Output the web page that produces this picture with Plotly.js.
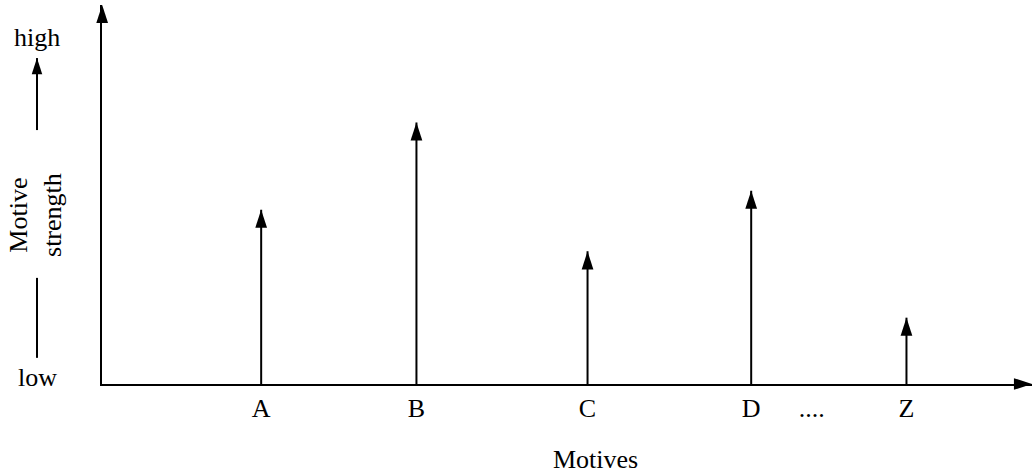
<!DOCTYPE html>
<html><head><meta charset="utf-8">
<script src="https://cdn.plot.ly/plotly-3.0.1.min.js"></script>
<style>html,body{margin:0;padding:0;background:#fff}</style>
</head><body><div id="chart" style="width:1034px;height:473px"></div>
<script>
// ---- data ----
const motives = ['A', 'B', 'C', 'D', 'Z'];
const motivePositions = [1.71, 3.38, 5.22, 6.98, 8.65];
const strengths = [4.6, 6.9, 3.5, 5.1, 1.75];
const ellipsisPosition = 7.63;
const ellipsisLabel = '....';
const xTitle = 'Motives';
const yTitle = 'Motive<br>strength';
const highLabel = 'high';
const lowLabel = 'low';
const axisMax = 10;

// ---- styling ----
const FONT = '"Liberation Serif", "Times New Roman", serif';
const FS = 26;
const INK = '#000';

// stems built from the data
const stemX = [], stemY = [];
motives.forEach((m, i) => {
  stemX.push(motivePositions[i], motivePositions[i], null);
  stemY.push(0, strengths[i], null);
});

const traces = [
  { type: 'scatter', mode: 'lines', x: stemX, y: stemY,
    line: { color: INK, width: 2 }, hoverinfo: 'skip', showlegend: false },
  { type: 'scatter', mode: 'markers', x: motivePositions, y: strengths,
    marker: { symbol: 'arrow', size: 19, color: INK, line: { width: 0 } },
    cliponaxis: false, showlegend: false, text: motives },
  // axis arrow heads
  { type: 'scatter', mode: 'markers', x: [axisMax, 0], y: [0, axisMax],
    marker: { symbol: 'arrow', size: 19, color: INK, angle: [90, 0], line: { width: 0 } },
    cliponaxis: false, showlegend: false, hoverinfo: 'skip' },
  // "low -> high" indicator on the left strip
  { type: 'scatter', mode: 'lines', x: [37, 37], y: [6.7, 8.6], xaxis: 'x2', yaxis: 'y2',
    line: { color: INK, width: 2 }, hoverinfo: 'skip', showlegend: false },
  { type: 'scatter', mode: 'markers', x: [37], y: [8.6], xaxis: 'x2', yaxis: 'y2',
    marker: { symbol: 'arrow', size: 17, color: INK, line: { width: 0 } },
    cliponaxis: false, hoverinfo: 'skip', showlegend: false },
  { type: 'scatter', mode: 'lines', x: [37, 37], y: [0.69, 2.8], xaxis: 'x2', yaxis: 'y2',
    line: { color: INK, width: 2 }, hoverinfo: 'skip', showlegend: false }
];

const layout = {
  width: 1034, height: 473,
  margin: { l: 0, r: 2, t: 5, b: 89 },
  paper_bgcolor: '#fff', plot_bgcolor: '#fff',
  font: { family: FONT, size: FS, color: INK },
  showlegend: false,
  xaxis: {
    domain: [0.099, 1], range: [0, axisMax], anchor: 'y',
    showline: true, linecolor: INK, linewidth: 2,
    showgrid: false, zeroline: false, ticks: '',
    tickvals: motivePositions.concat([ellipsisPosition]),
    ticktext: motives.concat([ellipsisLabel]),
    tickfont: { family: FONT, size: FS, color: INK }
  },
  yaxis: {
    range: [0, axisMax], anchor: 'x',
    showline: true, linecolor: INK, linewidth: 2,
    showgrid: false, zeroline: false, ticks: '', showticklabels: false
  },
  xaxis2: { domain: [0, 0.09], range: [0, 92.9], anchor: 'y2', visible: false, fixedrange: true },
  yaxis2: { domain: [0, 1], range: [0, axisMax], anchor: 'x2', visible: false, matches: 'y' },
  annotations: [
    { text: xTitle, xref: 'paper', yref: 'paper', x: 0.5775, y: -0.198,
      xanchor: 'center', yanchor: 'middle', showarrow: false, font: { family: FONT, size: FS, color: INK } },
    { text: highLabel, xref: 'paper', yref: 'paper', x: 0.0359, y: 0.913,
      xanchor: 'center', yanchor: 'middle', showarrow: false, font: { family: FONT, size: FS, color: INK } },
    { text: lowLabel, xref: 'paper', yref: 'paper', x: 0.0359, y: 0.016,
      xanchor: 'center', yanchor: 'middle', showarrow: false, font: { family: FONT, size: FS, color: INK } },
    { text: yTitle, xref: 'paper', yref: 'paper', x: 0.0349, y: 0.446, textangle: -90,
      xanchor: 'center', yanchor: 'middle', showarrow: false, font: { family: FONT, size: FS, color: INK } }
  ]
};

Plotly.newPlot('chart', traces, layout, { displayModeBar: false, staticPlot: true });
</script>
</body></html>
